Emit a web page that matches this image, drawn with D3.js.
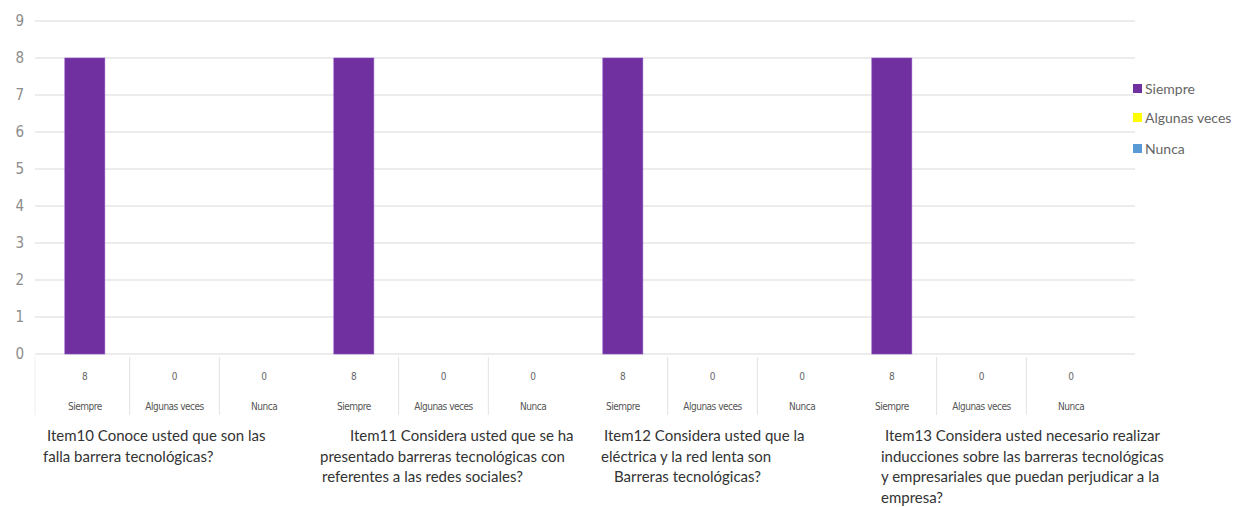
<!DOCTYPE html>
<html>
<head>
<meta charset="utf-8">
<script src="https://cdn.jsdelivr.net/npm/d3@7"></script>
<style>
  html, body { margin: 0; padding: 0; background: #fff; }
  svg { display: block; }
</style>
</head>
<body>
<svg id="chart" width="1241" height="507"></svg>
<script>
// Survey items (one group of three answer columns each)
const items = ["Item10", "Item11", "Item12", "Item13"];
const itemQuestions = [
  ["Item10 Conoce usted que son las", "falla barrera tecnológicas?"],
  ["Item11 Considera usted que se ha", "presentado barreras tecnológicas con", "referentes a las redes sociales?"],
  ["Item12 Considera usted que la", "eléctrica y la red lenta son", "Barreras tecnológicas?"],
  ["Item13 Considera usted necesario realizar", "inducciones sobre las barreras tecnológicas", "y empresariales que puedan perjudicar a la", "empresa?"]
];
const answers = ["Siempre", "Algunas veces", "Nunca"];
const siempre = [8, 8, 8, 8];
const algunasVeces = [0, 0, 0, 0];
const nunca = [0, 0, 0, 0];
const yTicks = [0, 1, 2, 3, 4, 5, 6, 7, 8, 9];

const colors = { "Siempre": "#7030a0", "Algunas veces": "#ffff00", "Nunca": "#5b9bd5" };

// Flatten into one row per (item, answer) column
const seriesByAnswer = { "Siempre": siempre, "Algunas veces": algunasVeces, "Nunca": nunca };
const columns = [];
items.forEach((it, i) => {
  answers.forEach(a => columns.push({ key: it + "|" + a, item: it, answer: a, value: seriesByAnswer[a][i] }));
});

const svg = d3.select("#chart");
const plot = { left: 40, right: 1116, top: 21, bottom: 354 };

const x = d3.scaleBand().domain(columns.map(d => d.key)).range([plot.left, plot.right]).paddingInner(0).paddingOuter(0);
const y = d3.scaleLinear().domain([0, 9]).range([plot.bottom, plot.top]);

// Horizontal gridlines
svg.append("g").selectAll("line").data(yTicks).join("line")
  .attr("x1", 35).attr("x2", 1135)
  .attr("y1", d => y(d)).attr("y2", d => y(d))
  .attr("stroke", "#d9d9d9").attr("stroke-width", 1);

// Y axis labels
const yAxis = d3.axisLeft(y).tickValues(yTicks).tickSize(0).tickPadding(0);
const yg = svg.append("g").attr("transform", "translate(24,0)").call(yAxis);
yg.select(".domain").remove();
yg.selectAll("text")
  .attr("fill", "#8c8c8c")
  .style("font-family", "'Liberation Sans Narrow', 'DejaVu Sans Condensed', sans-serif")
  .style("font-stretch", "condensed")
  .style("font-size", "15px");

// Bars
const barW = 40;
svg.append("g").selectAll("rect").data(columns.filter(d => d.value > 0)).join("rect")
  .attr("x", d => x(d.key) + x.bandwidth() / 2 - barW / 2)
  .attr("y", d => y(d.value))
  .attr("width", barW)
  .attr("height", d => y(0) - y(d.value))
  .attr("fill", d => colors[d.answer])
  .attr("stroke", "#8a4fc0").attr("stroke-width", 0.6);

// Data table beneath the axis: separators inside each item group
const sep = svg.append("g");
columns.forEach((d, i) => {
  if (i % 3 !== 0) {
    sep.append("line")
      .attr("x1", x(d.key)).attr("x2", x(d.key))
      .attr("y1", plot.bottom + 3).attr("y2", plot.bottom + 61)
      .attr("stroke", "#e2e2e2").attr("stroke-width", 1);
  }
});
sep.append("line").attr("x1", 35).attr("x2", 35)
  .attr("y1", plot.bottom + 3).attr("y2", plot.bottom + 61)
  .attr("stroke", "#eeeeee");

const tableFont = "'Liberation Sans Narrow', 'DejaVu Sans Condensed', sans-serif";
svg.append("g").selectAll("text").data(columns).join("text")
  .attr("x", d => x(d.key) + x.bandwidth() / 2)
  .attr("y", plot.bottom + 26)
  .attr("text-anchor", "middle")
  .attr("fill", "#666")
  .style("font-family", tableFont).style("font-size", "10px")
  .text(d => d.value);

svg.append("g").selectAll("text").data(columns).join("text")
  .attr("x", d => x(d.key) + x.bandwidth() / 2)
  .attr("y", plot.bottom + 56)
  .attr("text-anchor", "middle")
  .attr("fill", "#555")
  .style("font-family", tableFont).style("font-size", "10px")
  .style("letter-spacing", "-0.5px")
  .text(d => d.answer);

// Item questions below the table, each block anchored to its group's first column
const lineOffsets = [[7, 3], [41, 11, 13], [26, 23, 36], [38, 34, 34, 34]];
const qg = svg.append("g");
items.forEach((it, i) => {
  const gx = x(it + "|Siempre");
  itemQuestions[i].forEach((line, j) => {
    qg.append("text")
      .attr("x", gx + lineOffsets[i][j])
      .attr("y", 441 + j * 20.5)
      .attr("fill", "#333")
      .style("font-family", "Lato, 'Open Sans', sans-serif")
      .style("font-size", "15px")
      .text(line);
  });
});

// Legend
const legend = svg.append("g").attr("transform", "translate(1133,89)");
answers.forEach((a, i) => {
  const g = legend.append("g").attr("transform", `translate(0,${[0, 29, 60][i]})`);
  g.append("rect").attr("x", 0).attr("y", -5).attr("width", 9).attr("height", 9).attr("fill", colors[a]);
  g.append("text").attr("x", 12).attr("y", 5)
    .attr("fill", "#666")
    .style("font-family", "Lato, 'Open Sans', sans-serif")
    .style("font-size", "14px")
    .text(a);
});
</script>
</body>
</html>
